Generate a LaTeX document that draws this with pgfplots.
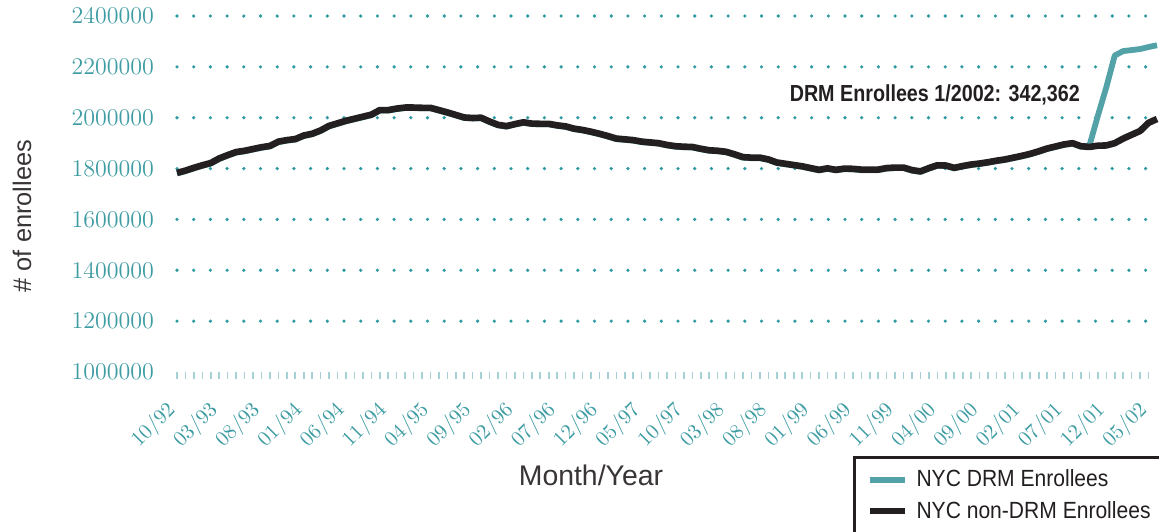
\documentclass[border=0pt]{standalone}
\usepackage{fontspec}
\usepackage{pgfplots}
\usepackage{pgfplotstable}
\pgfplotsset{compat=1.18}
\newfontfamily\lsans{Liberation Sans}
\newfontfamily\lnarrow[FakeStretch=0.9]{Liberation Sans}
\newfontfamily\lnarrowbold[FakeStretch=0.85]{Liberation Sans Bold}
\definecolor{tealtxt}{HTML}{3E9CA3}
\definecolor{tealgrid}{HTML}{2F9AA1}
\definecolor{tealline}{HTML}{52A2A8}
\definecolor{tealtick}{HTML}{A5D1D4}
\definecolor{dark}{HTML}{231F20}

\pgfplotstableread{
i v
0 1783000
1 1792000
2 1803000
3 1813000
4 1822000
5 1840000
6 1853000
7 1865000
8 1870000
9 1877000
10 1884000
11 1889000
12 1906000
13 1912000
14 1916000
15 1930000
16 1937000
17 1950000
18 1968000
19 1978000
20 1988000
21 1996000
22 2004000
23 2012000
24 2030000
25 2030000
26 2036000
27 2040000
28 2040000
29 2039000
30 2039000
31 2030000
32 2021000
33 2011000
34 2001000
35 1999000
36 2000000
37 1985000
38 1972000
39 1967000
40 1975000
41 1982000
42 1977000
43 1976000
44 1976000
45 1970000
46 1966000
47 1957000
48 1952000
49 1945000
50 1937000
51 1928000
52 1918000
53 1915000
54 1912000
55 1906000
56 1903000
57 1900000
58 1893000
59 1888000
60 1886000
61 1885000
62 1878000
63 1872000
64 1870000
65 1866000
66 1856000
67 1845000
68 1843000
69 1843000
70 1836000
71 1824000
72 1819000
73 1814000
74 1809000
75 1802000
76 1795000
77 1801000
78 1795000
79 1800000
80 1799000
81 1796000
82 1796000
83 1796000
84 1802000
85 1804000
86 1804000
87 1794000
88 1789000
89 1802000
90 1813000
91 1812000
92 1803000
93 1810000
94 1816000
95 1820000
96 1825000
97 1831000
98 1836000
99 1843000
100 1850000
101 1858000
102 1868000
103 1879000
104 1887000
105 1895000
106 1900000
107 1888000
108 1885000
109 1890000
110 1891000
111 1900000
112 1918000
113 1933000
114 1948000
115 1980000
116 1995000
}\nondrm

\pgfplotstableread{
i v
0 1781000
1 1790000
2 1801000
3 1811000
4 1820000
5 1838000
6 1851000
7 1863000
8 1868000
9 1875000
10 1882000
11 1887000
12 1904000
13 1910000
14 1914000
15 1928000
16 1935000
17 1948000
18 1966000
19 1976000
20 1986000
21 1994000
22 2002000
23 2010000
24 2028000
25 2028000
26 2034000
27 2038000
28 2038000
29 2037000
30 2037000
31 2028000
32 2019000
33 2009000
34 1999000
35 1997000
36 1998000
37 1983000
38 1970000
39 1965000
40 1973000
41 1980000
42 1975000
43 1974000
44 1974000
45 1968000
46 1964000
47 1955000
48 1950000
49 1943000
50 1935000
51 1926000
52 1916000
53 1913000
54 1910000
55 1904000
56 1901000
57 1898000
58 1891000
59 1886000
60 1884000
61 1883000
62 1876000
63 1870000
64 1868000
65 1864000
66 1854000
67 1843000
68 1841000
69 1841000
70 1834000
71 1822000
72 1817000
73 1812000
74 1807000
75 1800000
76 1793000
77 1799000
78 1793000
79 1798000
80 1797000
81 1794000
82 1794000
83 1794000
84 1800000
85 1802000
86 1802000
87 1792000
88 1787000
89 1800000
90 1811000
91 1810000
92 1801000
93 1808000
94 1814000
95 1818000
96 1823000
97 1829000
98 1834000
99 1841000
100 1848000
101 1856000
102 1866000
103 1877000
104 1885000
105 1893000
106 1898000
107 1886000
108 1890000
109 2008000
110 2120000
111 2245000
112 2262000
113 2266000
114 2270000
115 2278000
116 2285000
}\drm

\begin{document}
\begin{tikzpicture}
\begin{axis}[
  at={(0,0)}, anchor=south west,
  scale only axis, width=490pt, height=178pt,
  xmin=0, xmax=116, ymin=1000000, ymax=2400000,
  clip=false,
  axis line style={draw=none},
  ytick={1200000,1400000,...,2400000},
  extra y ticks={1000000},
  extra y tick style={ymajorgrids=false},
  ymajorgrids,
  grid style={tealgrid, line width=1.8pt, line cap=round, dash pattern=on 0pt off 8.35pt},
  scaled y ticks=false,
  y tick label style={/pgf/number format/fixed, /pgf/number format/precision=0, /pgf/number format/1000 sep={}},
  yticklabel style={text=tealtxt, font=\fontsize{11.9}{12}\selectfont, xshift=-4.5pt},
  y tick style={draw=none},
  xtick={0,5,...,115},
  xticklabels={10/92,03/93,08/93,01/94,06/94,11/94,04/95,09/95,02/96,07/96,12/96,05/97,10/97,03/98,08/98,01/99,06/99,11/99,04/00,09/00,02/01,07/01,12/01,05/02},
  minor x tick num=4,
  tick align=outside,
  xtick pos=bottom, ytick pos=left,
  major tick length=3.5pt, minor tick length=3.5pt,
  x tick style={tealtick, line width=0.8pt},
  xticklabel style={xshift=-6pt, yshift=-10pt, rotate=45, anchor=north east, inner sep=0pt, text=tealtxt, font=\fontsize{10.5}{11}\selectfont},
  xlabel={Month/Year},
  xlabel style={at={(axis description cs:0.4224,-0.289)}, anchor=center, font=\lsans\fontsize{14.2}{16}\selectfont, text=dark!90},
  ylabel={\# of enrollees},
  ylabel style={at={(axis description cs:-0.158,0.438)}, anchor=center, font=\lsans\fontsize{12.7}{14}\selectfont, text=dark!90},
  legend style={at={(axis description cs:0.6898,-0.236)}, anchor=north west, draw=dark, line width=1.5pt,
    font=\lnarrow\fontsize{11.7}{13}\selectfont, text=dark, inner xsep=6pt, inner ysep=4pt, row sep=2pt,
    nodes={inner xsep=4.5pt}},
  legend cell align=left,
  legend image code/.code={\draw[#1, line width=3pt] (0pt,0pt) -- (17.5pt,0pt);},
]
\addplot[tealline, line width=2.9pt, line join=round] table[x=i, y=v] {\drm};
\addlegendentry{NYC DRM Enrollees}
\addplot[dark, line width=3.3pt, line join=round] table[x=i, y=v] {\nondrm};
\addlegendentry{NYC non-DRM Enrollees}
\node[text=dark, font=\lnarrowbold\fontsize{11.6}{13}\selectfont] at (axis cs:89.7,2089000) {DRM Enrollees 1/2002: 342,362};
\end{axis}
\pgfresetboundingbox
\path[use as bounding box] (-88.5pt,-79.5pt) rectangle (491pt,186pt);
\end{tikzpicture}
\end{document}
